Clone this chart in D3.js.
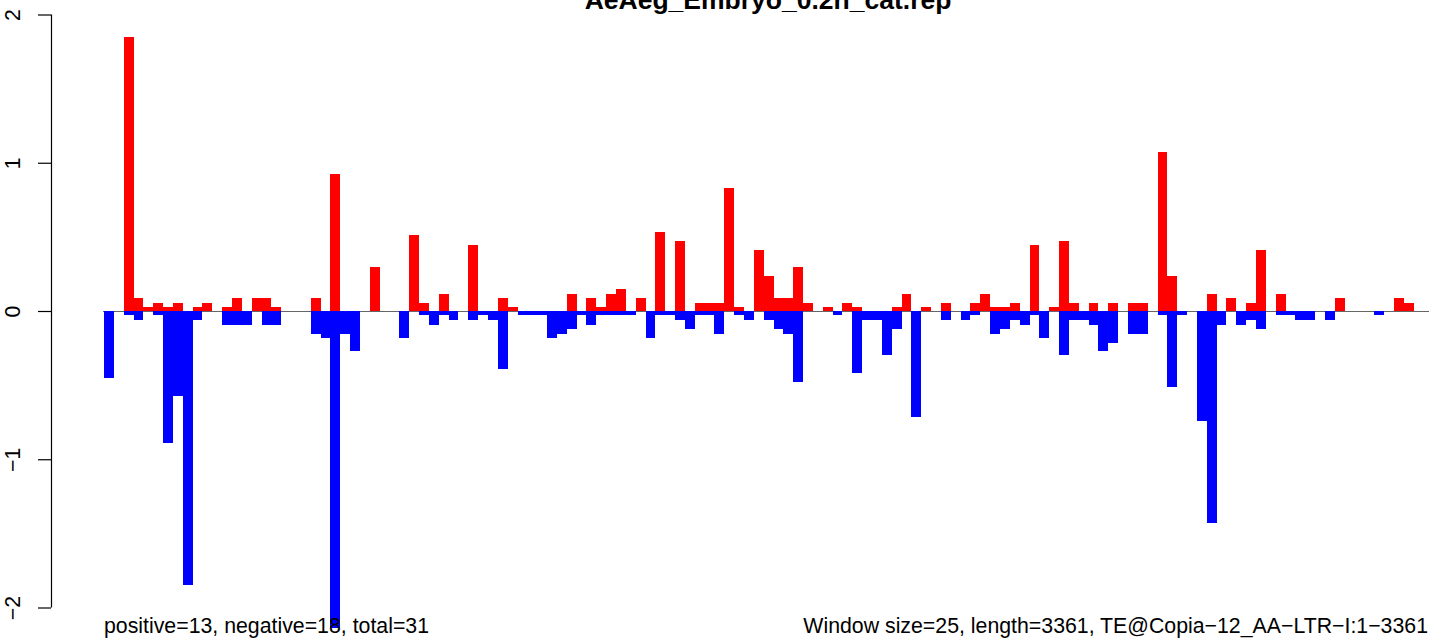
<!DOCTYPE html>
<html>
<head>
<meta charset="utf-8">
<script src="https://cdn.jsdelivr.net/npm/d3@7"></script>
<style>
  html, body { margin: 0; padding: 0; background: #fff; }
  svg { display: block; }
  text { font-family: "Liberation Sans", Arial, Helvetica, sans-serif; }
</style>
</head>
<body>
<svg id="chart" width="1429" height="641"></svg>
<script>
// ---- data (one value per 25-bp window) ----
const titleText = "AeAeg_Embryo_0.2h_cat.rep";
const leftNote = "positive=13, negative=18, total=31";
const rightNote = "Window size=25, length=3361, TE@Copia\u221212_AA\u2212LTR\u2212I:1\u22123361";
const yTicks = [-2, -1, 0, 1, 2];

const positiveValues = [
  0, 0, 1.85, 0.088, 0.027, 0.054, 0.027, 0.054, 0, 0.027,
  0.054, 0, 0.027, 0.088, 0, 0.088, 0.088, 0.027, 0, 0,
  0, 0.088, 0, 0.925, 0, 0, 0, 0.30, 0, 0,
  0, 0.51, 0.054, 0, 0.115, 0, 0, 0.445, 0, 0,
  0.088, 0.027, 0, 0, 0, 0, 0, 0.115, 0, 0.088,
  0.027, 0.115, 0.148, 0, 0.088, 0, 0.535, 0, 0.47, 0,
  0.054, 0.054, 0.054, 0.83, 0.027, 0, 0.41, 0.236, 0.088, 0.088,
  0.30, 0.054, 0, 0.027, 0, 0.054, 0.027, 0, 0, 0,
  0.027, 0.115, 0, 0.027, 0, 0.054, 0, 0, 0.054, 0.115,
  0.027, 0.027, 0.054, 0, 0.445, 0, 0.027, 0.472, 0.054, 0,
  0.054, 0, 0.054, 0, 0.054, 0.054, 0, 1.07, 0.236, 0,
  0, 0, 0.115, 0, 0.088, 0, 0.054, 0.41, 0, 0.115,
  0, 0, 0, 0, 0, 0.088, 0, 0, 0, 0,
  0, 0.088, 0.054
];
const negativeValues = [
  -0.45, 0, -0.03, -0.058, 0, -0.03, -0.89, -0.57, -1.85, -0.058,
  0, 0, -0.094, -0.094, -0.094, 0, -0.094, -0.094, 0, 0,
  0, -0.155, -0.182, -2.14, -0.155, -0.27, 0, 0, 0, 0,
  -0.182, 0, -0.03, -0.094, -0.03, -0.058, 0, -0.058, -0.03, -0.058,
  -0.39, 0, -0.03, -0.03, -0.03, -0.182, -0.155, -0.12, -0.03, -0.094,
  -0.03, -0.03, -0.03, -0.03, 0, -0.182, -0.03, -0.03, -0.058, -0.12,
  -0.03, -0.03, -0.155, 0, -0.03, -0.058, 0, -0.058, -0.12, -0.155,
  -0.477, 0, 0, 0, -0.03, 0, -0.42, -0.058, -0.058, -0.30,
  -0.12, 0, -0.715, 0, 0, -0.058, 0, -0.058, -0.03, 0,
  -0.155, -0.12, -0.058, -0.094, -0.03, -0.182, 0, -0.30, -0.058, -0.058,
  -0.094, -0.27, -0.216, 0, -0.155, -0.155, 0, -0.03, -0.51, -0.03,
  0, -0.74, -1.43, -0.094, 0, -0.094, -0.058, -0.12, 0, -0.03,
  -0.03, -0.058, -0.058, 0, -0.058, 0, 0, 0, 0, -0.03,
  0, 0, 0
];
const windowIndex = d3.range(positiveValues.length);

// ---- layout ----
const svg = d3.select("#chart");
const W = 1429, H = 641;
svg.append("rect").attr("width", W).attr("height", H).attr("fill", "#fff");

const x = d3.scaleBand().domain(windowIndex).range([104, 1413.5]).padding(0);
const y = d3.scaleLinear().domain([-2, 2]).range([607.5, 14.5]);

// zero reference line
svg.append("line")
  .attr("x1", 103).attr("x2", W)
  .attr("y1", y(0) + 0.5).attr("y2", y(0) + 0.5)
  .attr("stroke", "#666").attr("stroke-width", 1.2);

const bars = svg.append("g").attr("shape-rendering", "crispEdges");
bars.selectAll("rect.pos")
  .data(windowIndex.filter(i => positiveValues[i] > 0))
  .join("rect").attr("class", "pos")
  .attr("x", i => x(i)).attr("width", x.bandwidth())
  .attr("y", i => y(positiveValues[i])).attr("height", i => y(0) - y(positiveValues[i]))
  .attr("fill", "#ff0000");
bars.selectAll("rect.neg")
  .data(windowIndex.filter(i => negativeValues[i] < 0))
  .join("rect").attr("class", "neg")
  .attr("x", i => x(i)).attr("width", x.bandwidth())
  .attr("y", y(0)).attr("height", i => y(negativeValues[i]) - y(0))
  .attr("fill", "#0000ff");

// y axis (R style)
const axisX = 51;
const yAxis = d3.axisLeft(y).tickValues(yTicks).tickSize(13)
  .tickFormat(d => d < 0 ? "\u2212" + Math.abs(d) : String(d));
const ag = svg.append("g").attr("transform", `translate(${axisX},0)`).call(yAxis);
ag.select(".domain").attr("stroke", "#000").attr("stroke-width", 1.2)
  .attr("d", `M0.5,${y(2)}V${y(-2)}`);
ag.selectAll(".tick line").attr("stroke", "#000").attr("stroke-width", 1.2)
  .attr("x1", -13).attr("x2", 0);
ag.selectAll(".tick text")
  .attr("x", null).attr("dy", null)
  .attr("transform", `translate(${20 - axisX},0) rotate(-90)`)
  .attr("text-anchor", "middle")
  .attr("fill", "#000")
  .style("font-size", "21.3px")
  .style("font-family", "'Liberation Sans', Arial, sans-serif");

// title
svg.append("text")
  .attr("x", 768).attr("y", 9)
  .attr("text-anchor", "middle")
  .style("font-size", "26.5px").style("font-weight", "bold")
  .text(titleText);

// bottom notes
svg.append("text")
  .attr("x", 104).attr("y", 633)
  .style("font-size", "21.3px")
  .text(leftNote);
svg.append("text")
  .attr("x", 1428).attr("y", 633)
  .attr("text-anchor", "end")
  .style("font-size", "21.3px")
  .text(rightNote);
</script>
</body>
</html>
